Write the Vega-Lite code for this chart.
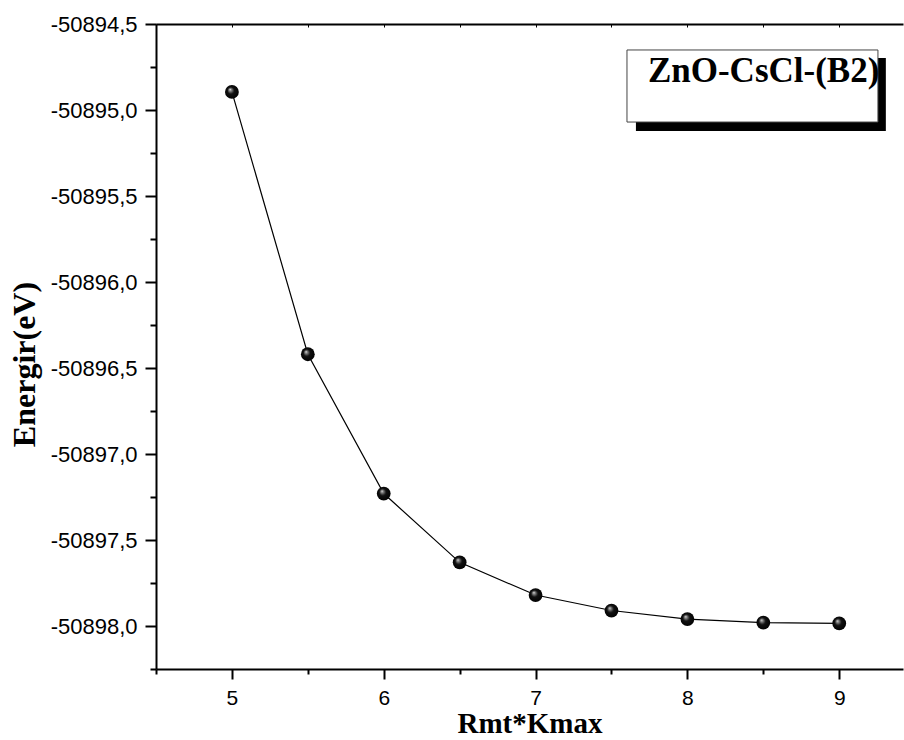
{
  "$schema": "https://vega.github.io/schema/vega-lite/v6.json",
  "width": 747,
  "height": 645,
  "autosize": {"type": "none"},
  "padding": {"left": 156, "top": 24, "right": 1, "bottom": 71},
  "background": "white",
  "config": {
    "view": {"stroke": null},
    "axis": {
      "domainColor": "black",
      "domainWidth": 2,
      "tickColor": "black",
      "tickWidth": 2,
      "grid": false,
      "labelFont": "Liberation Sans",
      "labelFontSize": 20,
      "labelColor": "black",
      "titleColor": "black",
      "titleFont": "Liberation Serif",
      "titleFontWeight": "bold"
    }
  },
  "datasets": {
    "pts": [
      {"x": 5.0, "y": -50894.895},
      {"x": 5.5, "y": -50896.42},
      {"x": 6.0, "y": -50897.23},
      {"x": 6.5, "y": -50897.63},
      {"x": 7.0, "y": -50897.82},
      {"x": 7.5, "y": -50897.91},
      {"x": 8.0, "y": -50897.96},
      {"x": 8.5, "y": -50897.98},
      {"x": 9.0, "y": -50897.985}
    ],
    "shadow": [{"x": 7.661, "x2": 9.307, "y": -50894.698, "y2": -50895.122}],
    "box": [{"x": 7.602, "x2": 9.255, "y": -50894.651, "y2": -50895.07}],
    "label": [{"x": 7.74, "y": -50894.837, "t": "ZnO-CsCl-(B2)"}]
  },
  "layer": [
    {
      "data": {"name": "shadow"},
      "mark": {"type": "rect", "fill": "black"},
      "encoding": {
        "x": {"field": "x", "type": "quantitative", "scale": {"domain": [4.5, 9.42], "nice": false, "zero": false}, "axis": null},
        "x2": {"field": "x2"},
        "y": {"field": "y", "type": "quantitative", "scale": {"domain": [-50898.25, -50894.5], "nice": false, "zero": false}, "axis": null},
        "y2": {"field": "y2"}
      }
    },
    {
      "data": {"name": "box"},
      "mark": {"type": "rect", "fill": "white", "stroke": "#444444", "strokeWidth": 1},
      "encoding": {
        "x": {"field": "x", "type": "quantitative", "scale": {"domain": [4.5, 9.42], "nice": false, "zero": false}, "axis": null},
        "x2": {"field": "x2"},
        "y": {"field": "y", "type": "quantitative", "scale": {"domain": [-50898.25, -50894.5], "nice": false, "zero": false}, "axis": null},
        "y2": {"field": "y2"}
      }
    },
    {
      "data": {"name": "label"},
      "mark": {"type": "text", "align": "left", "baseline": "alphabetic", "font": "Liberation Serif", "fontWeight": "bold", "fontSize": 35, "color": "black"},
      "encoding": {
        "x": {"field": "x", "type": "quantitative", "scale": {"domain": [4.5, 9.42], "nice": false, "zero": false}, "axis": null},
        "y": {"field": "y", "type": "quantitative", "scale": {"domain": [-50898.25, -50894.5], "nice": false, "zero": false}, "axis": null},
        "text": {"field": "t"}
      }
    },
    {
      "data": {"name": "pts"},
      "mark": {"type": "line", "color": "black", "strokeWidth": 1.2},
      "encoding": {
        "x": {
          "field": "x", "type": "quantitative",
          "scale": {"domain": [4.5, 9.42], "nice": false, "zero": false},
          "axis": {
            "orient": "bottom",
            "title": "Rmt*Kmax",
            "titleFontSize": 29,
            "titleBaseline": "alphabetic",
            "titleY": 63,
            "values": [4.5, 5, 5.5, 6, 6.5, 7, 7.5, 8, 8.5, 9],
            "labelExpr": "datum.value % 1 == 0 ? format(datum.value, 'd') : ''",
            "tickSize": {"condition": {"test": "datum.value % 1 == 0", "value": 10}, "value": 5},
            "labelPadding": 8,
            "labelFontSize": 21
          }
        },
        "y": {
          "field": "y", "type": "quantitative",
          "scale": {"domain": [-50898.25, -50894.5], "nice": false, "zero": false},
          "axis": {
            "orient": "left",
            "title": "Energir(eV)",
            "titleFontSize": 32,
            "titleAngle": 270,
            "titleAlign": "center",
            "titleBaseline": "middle",
            "titleX": -132,
            "titleY": 340,
            "values": [-50898.25, -50898.0, -50897.75, -50897.5, -50897.25, -50897.0, -50896.75, -50896.5, -50896.25, -50896.0, -50895.75, -50895.5, -50895.25, -50895.0, -50894.75, -50894.5],
            "labelExpr": "abs(datum.value*2 - round(datum.value*2)) < 0.001 ? '-' + replace(format(abs(datum.value), '.1f'), '.', ',') : ''",
            "tickSize": {"condition": {"test": "abs(datum.value*2 - round(datum.value*2)) < 0.001", "value": 11}, "value": 6},
            "labelPadding": 8,
            "labelFontSize": 22
          }
        }
      }
    },
    {
      "data": {"name": "pts"},
      "mark": {
        "type": "point",
        "filled": true,
        "size": 190,
        "opacity": 1,
        "fill": {
          "gradient": "radial",
          "x1": 0.36, "y1": 0.32, "r1": 0,
          "x2": 0.5, "y2": 0.5, "r2": 0.55,
          "stops": [
            {"offset": 0, "color": "#ffffff"},
            {"offset": 0.12, "color": "#999999"},
            {"offset": 0.45, "color": "#111111"},
            {"offset": 1, "color": "#000000"}
          ]
        }
      },
      "encoding": {
        "x": {
          "field": "x", "type": "quantitative",
          "scale": {"domain": [4.5, 9.42], "nice": false, "zero": false},
          "axis": {
            "orient": "top",
            "title": null,
            "labels": false,
            "values": [4.5, 5, 5.5, 6, 6.5, 7, 7.5, 8, 8.5, 9],
            "tickSize": -3,
            "tickWidth": 1,
            "domainWidth": 2
          }
        },
        "y": {
          "field": "y", "type": "quantitative",
          "scale": {"domain": [-50898.25, -50894.5], "nice": false, "zero": false},
          "axis": null
        }
      }
    }
  ],
  "resolve": {"axis": {"x": "independent", "y": "independent"}}
}
